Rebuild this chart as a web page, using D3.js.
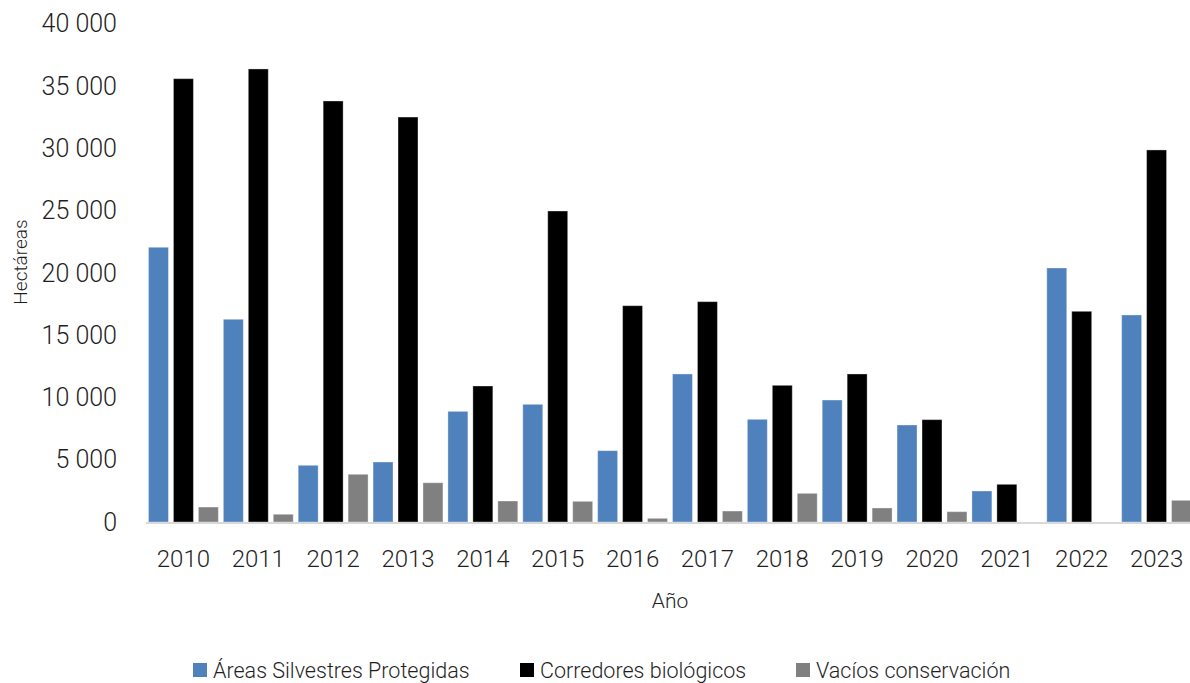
<!DOCTYPE html>
<html>
<head>
<meta charset="utf-8">
<script src="https://cdn.jsdelivr.net/npm/d3@7.9.0/dist/d3.min.js"></script>
<style>
  body { margin: 0; background: #fff; }
  svg { display: block; font-family: Roboto, "Noto Sans", sans-serif; font-weight: 300; }
</style>
</head>
<body>
<svg width="1190" height="683"></svg>
<script>
// data
const years = ['2010', '2011', '2012', '2013', '2014', '2015', '2016', '2017', '2018', '2019', '2020', '2021', '2022', '2023'];
const areasProtegidas = [22050, 16270, 4550, 4815, 8880, 9445, 5725, 11880, 8240, 9790, 7785, 2490, 20385, 16615];
const corredores = [35580, 36360, 33790, 32500, 10915, 24960, 17360, 17685, 10970, 11880, 8215, 3025, 16910, 29860];
const vacios = [1200, 620, 3830, 3150, 1685, 1660, 295, 880, 2300, 1125, 830, 0, 0, 1740];
const yTicks = [0, 5000, 10000, 15000, 20000, 25000, 30000, 35000, 40000];

const seriesNames = ['Áreas Silvestres Protegidas', 'Corredores biológicos', 'Vacíos conservación'];
const seriesValues = [areasProtegidas, corredores, vacios];
const colors = ['#4f81bd', '#000000', '#808080'];

const textColor = '#1f1f1f';
const svg = d3.select('svg');

let x = d3.scaleBand().domain(years).range([146, 1194]).padding(0);
let x1 = d3.scaleBand().domain(d3.range(3)).range([0, x.bandwidth()]);
let y = d3.scaleLinear().domain([0, 40000]).range([522, 23.6]);

const fmt = d3.formatLocale({ decimal: ',', thousands: ' ', grouping: [3], currency: ['', ''] }).format(',');

// bars
const groups = svg.append('g')
  .selectAll('g')
  .data(years)
  .join('g')
  .attr('transform', (d) => `translate(${x(d)},0)`);

groups.selectAll('rect')
  .data((d, i) => seriesValues.map((vals, s) => ({ s, v: vals[i] })))
  .join('rect')
  .filter((d) => d.v > 0)
  .attr('x', (d) => x1(d.s) + x1.bandwidth() * 0.1)
  .attr('width', x1.bandwidth() * 0.8)
  .attr('y', (d) => y(d.v))
  .attr('height', (d) => y(0) - y(d.v))
  .attr('fill', (d) => colors[d.s])
  .attr('stroke', '#ffffff')
  .attr('stroke-opacity', 0.35)
  .attr('stroke-width', 1);

// x axis line
svg.append('line')
  .attr('x1', 146).attr('x2', 1194)
  .attr('y1', y(0) + 1).attr('y2', y(0) + 1)
  .attr('stroke', '#d9d9d9')
  .attr('stroke-width', 2);

// y tick labels
svg.append('g')
  .selectAll('text')
  .data(yTicks)
  .join('text')
  .attr('x', 117)
  .attr('y', (d) => y(d))
  .attr('dy', '0.35em')
  .attr('text-anchor', 'end')
  .attr('font-size', 25)
  .attr('fill', textColor)
  .text((d) => fmt(d));

// x tick labels
svg.append('g')
  .selectAll('text')
  .data(years)
  .join('text')
  .attr('x', (d) => x(d) + x.bandwidth() / 2)
  .attr('y', 567)
  .attr('text-anchor', 'middle')
  .attr('font-size', 24)
  .attr('fill', textColor)
  .text((d) => d);

// axis titles
svg.append('text')
  .attr('x', 670).attr('y', 608)
  .attr('text-anchor', 'middle')
  .attr('font-size', 21)
  .attr('fill', textColor)
  .text('Año');

svg.append('text')
  .attr('transform', 'translate(27,262) rotate(-90)')
  .attr('text-anchor', 'middle')
  .attr('font-size', 19)
  .attr('fill', textColor)
  .text('Hectáreas');

// legend
const legendX = [193, 520, 796];
const legend = svg.append('g')
  .selectAll('g')
  .data(seriesNames)
  .join('g')
  .attr('transform', (d, i) => `translate(${legendX[i]},663)`);

legend.append('rect')
  .attr('width', 14).attr('height', 14)
  .attr('fill', (d, i) => colors[i]);

legend.append('text')
  .attr('x', 20).attr('y', 15)
  .attr('font-size', 21.5)
  .attr('fill', textColor)
  .text((d) => d);
</script>
</body>
</html>
